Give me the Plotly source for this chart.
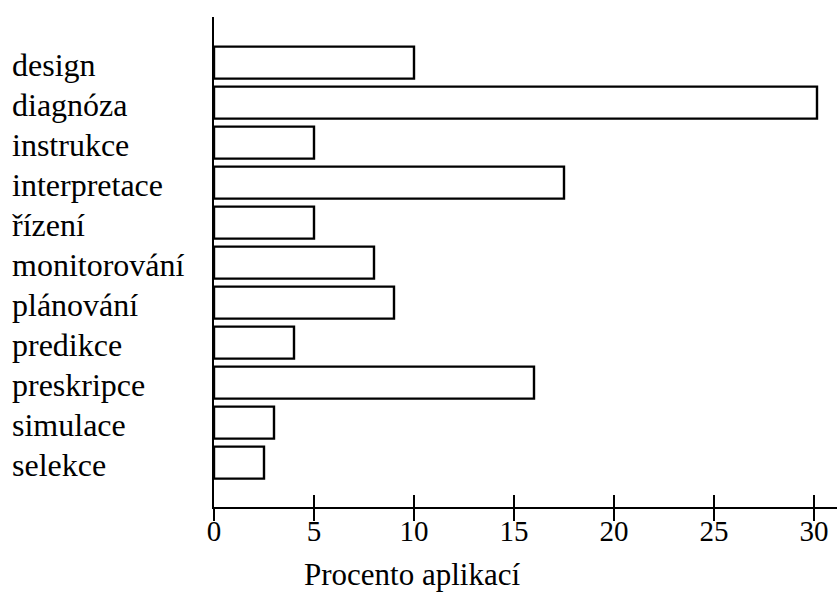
import plotly.graph_objects as go

categories = ["design", "diagnóza", "instrukce", "interpretace", "řízení",
              "monitorování", "plánování", "predikce", "preskripce",
              "simulace", "selekce"]
values = [10, 30.15, 5, 17.5, 5, 8, 9, 4, 16, 3, 2.5]
x_ticks = [0, 5, 10, 15, 20, 25, 30]
x_title = "Procento aplikací"

FONT = "Liberation Serif"
positions = list(range(len(categories)))

fig = go.Figure()
fig.add_trace(go.Bar(
    x=values, y=positions, orientation="h", width=0.8,
    marker=dict(color="white", line=dict(color="black", width=2.4)),
    hoverinfo="skip", showlegend=False,
))

annotations = []
for pos, label in zip(positions, categories):
    annotations.append(dict(
        x=0, xref="paper", y=pos, yref="y", text=label, showarrow=False,
        xanchor="left", yanchor="middle", xshift=-204, yshift=-2,
        font=dict(family=FONT, size=32, color="black"),
    ))
annotations.append(dict(
    x=0.318, xref="paper", y=-0.138, yref="paper", text=x_title,
    showarrow=False, xanchor="center", yanchor="middle",
    font=dict(family=FONT, size=31, color="black"),
))

fig.update_layout(
    width=840, height=599,
    margin=dict(l=214, r=3, t=17, b=92),
    paper_bgcolor="white", plot_bgcolor="white",
    font=dict(family=FONT, color="black"),
    xaxis=dict(
        range=[0, 31.15], tickvals=x_ticks, ticks="outside", ticklen=12,
        tickwidth=2, tickcolor="black", showline=True, linewidth=2,
        linecolor="black", showgrid=False, zeroline=False,
        ticklabelstandoff=-15,
        tickfont=dict(family=FONT, size=29, color="black"),
    ),
    xaxis2=dict(
        range=[0, 31.15], tickvals=x_ticks, ticks="inside", ticklen=12,
        tickwidth=2, tickcolor="black", overlaying="x", anchor="y",
        side="bottom", showticklabels=False, showgrid=False,
        zeroline=False, showline=False,
    ),
    yaxis=dict(
        range=[11.11, -1.14], showline=True, linewidth=2, linecolor="black",
        ticks="", showticklabels=False, showgrid=False, zeroline=False,
    ),
    annotations=annotations,
)
# empty trace so that the overlaid axis with inward ticks is drawn
fig.add_trace(go.Scatter(x=[None], y=[None], xaxis="x2", yaxis="y",
                         showlegend=False, hoverinfo="skip"))

fig.write_html(
    "out.html",
    config={"displayModeBar": False},
    post_script="document.body.style.margin='0';document.body.style.overflow='hidden';",
)
